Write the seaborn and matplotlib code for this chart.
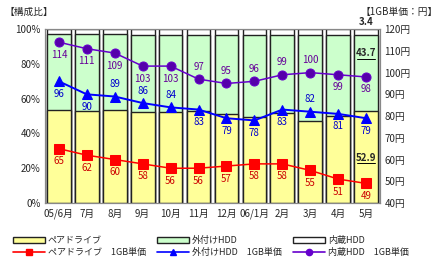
import numpy as np
import pandas as pd
import matplotlib
matplotlib.use("Agg")
import matplotlib.pyplot as plt
import seaborn as sns
from matplotlib.patches import Patch
from matplotlib.lines import Line2D

sns.set_style("white")
plt.rcParams["font.family"] = ["Noto Sans CJK JP", "DejaVu Sans"]

months = ["05/6月", "7月", "8月", "9月", "10月", "11月", "12月", "06/1月", "2月", "3月", "4月", "5月"]

# share (%) of each type
bare_share = [53.4, 52.9, 53.3, 52.5, 52.5, 52.9, 51.0, 49.6, 51.5, 47.0, 50.2, 52.9]
ext_share = [43.6, 44.1, 43.7, 44.0, 44.0, 43.6, 45.5, 46.9, 45.0, 49.5, 46.3, 43.7]
int_share = [3.0, 3.0, 3.0, 3.5, 3.5, 3.5, 3.5, 3.5, 3.5, 3.5, 3.5, 3.4]

# price per 1GB (yen)
bare_price = [65, 62, 60, 58, 56, 56, 57, 58, 58, 55, 51, 49]
ext_price = [96, 90, 89, 86, 84, 83, 79, 78, 83, 82, 81, 79]
int_price = [114, 111, 109, 103, 103, 97, 95, 96, 99, 100, 99, 98]

ext_label_pos = ["b", "b", "a", "a", "a", "b", "b", "b", "b", "a", "b", "b"]
int_label_pos = ["b", "b", "b", "b", "b", "a", "a", "a", "a", "a", "b", "b"]

df = pd.DataFrame({
    "month": months,
    "bare": bare_share,
    "ext": ext_share,
    "int": int_share,
})
df["bare_ext"] = df["bare"] + df["ext"]
df["total"] = df["bare_ext"] + df["int"]

yellow = "#FFFF99"
green = "#CCFFCC"
edge = "#222222"

fig = plt.figure(figsize=(4.4, 2.65), dpi=100)
ax = fig.add_axes([0.102, 0.234, 0.762, 0.656])

bar_kw = dict(order=months, width=0.85, saturation=1, errorbar=None,
              edgecolor=edge, linewidth=1.0, ax=ax)
sns.barplot(data=df, x="month", y="total", color="white", **bar_kw)
sns.barplot(data=df, x="month", y="bare_ext", color=green, **bar_kw)
sns.barplot(data=df, x="month", y="bare", color=yellow, **bar_kw)

ax.set_xlim(-0.5, 11.5)
ax.set_ylim(0, 100)
ax.set_yticks(range(0, 101, 20))
ax.set_yticklabels([f"{v}%" for v in range(0, 101, 20)])
ax.set_xlabel("")
ax.set_ylabel("")
ax.tick_params(length=0, labelsize=7, pad=3)
ax.tick_params(axis="x", pad=4)
for s in ax.spines.values():
    s.set_color("#888888")

# value labels on the last bar
ax.text(11, 26, "52.9", ha="center", va="center", fontsize=7, fontweight="bold")
ax.text(11, 86, "43.7", ha="center", va="center", fontsize=7, fontweight="bold")
ax.text(11, 101.5, "3.4", ha="center", va="bottom", fontsize=7, fontweight="bold")
ax.plot([10.68, 11.32], [22.8, 22.8], color="black", lw=0.7)
ax.plot([10.68, 11.32], [82.8, 82.8], color="black", lw=0.7)

ax2 = ax.twinx()
x = np.arange(len(months))
sns.lineplot(x=x, y=bare_price, ax=ax2, color="#FF0000", marker="s", markersize=6.5,
             markeredgecolor="#FF0000", lw=1.1)
sns.lineplot(x=x, y=ext_price, ax=ax2, color="#0000FF", marker="^", markersize=7,
             markeredgecolor="#0000FF", lw=1.4)
sns.lineplot(x=x, y=int_price, ax=ax2, color="#6600CC", marker="o", markersize=6.5,
             markerfacecolor="#5500AA", markeredgecolor="#6600CC", lw=1.1)
ax2.set_ylim(40, 120)
ax2.set_yticks(range(40, 121, 10))
ax2.set_yticklabels([f"{v}円" for v in range(40, 121, 10)])
ax2.tick_params(length=0, labelsize=7, pad=3)
for s in ax2.spines.values():
    s.set_color("#888888")

for i, v in enumerate(bare_price):
    ax2.annotate(str(v), (i, v), xytext=(0, -9), textcoords="offset points",
                 ha="center", va="center", fontsize=7, color="#CC0000")
for i, v in enumerate(ext_price):
    dy = -9 if ext_label_pos[i] == "b" else 9
    ax2.annotate(str(v), (i, v), xytext=(0, dy), textcoords="offset points",
                 ha="center", va="center", fontsize=7, color="#0000CC")
for i, v in enumerate(int_price):
    dy = -9 if int_label_pos[i] == "b" else 9
    ax2.annotate(str(v), (i, v), xytext=(0, dy), textcoords="offset points",
                 ha="center", va="center", fontsize=7, color="#660099")

fig.text(0.01, 0.975, "【構成比】", ha="left", va="top", fontsize=7)
fig.text(0.995, 0.975, "【1GB単価：円】", ha="right", va="top", fontsize=7)

handles = [
    Patch(facecolor=yellow, edgecolor=edge, lw=1.0, label="ペアドライブ"),
    Line2D([], [], color="#FF0000", marker="s", markersize=5, lw=1.2, label="ペアドライブ　1GB単価"),
    Patch(facecolor=green, edgecolor=edge, lw=1.0, label="外付けHDD"),
    Line2D([], [], color="#0000FF", marker="^", markersize=5, lw=1.2, label="外付けHDD　1GB単価"),
    Patch(facecolor="white", edgecolor=edge, lw=1.0, label="内蔵HDD"),
    Line2D([], [], color="#6600CC", marker="o", markersize=4.5, lw=1.2, label="内蔵HDD　1GB単価"),
]
fig.legend(handles=handles, ncol=3, loc="lower left", bbox_to_anchor=(0.01, 0.0),
           frameon=False, fontsize=6.5, handlelength=3.6, handleheight=0.8,
           columnspacing=1.2, labelspacing=0.3, handletextpad=0.3)

fig.savefig("out.png", dpi=100)
